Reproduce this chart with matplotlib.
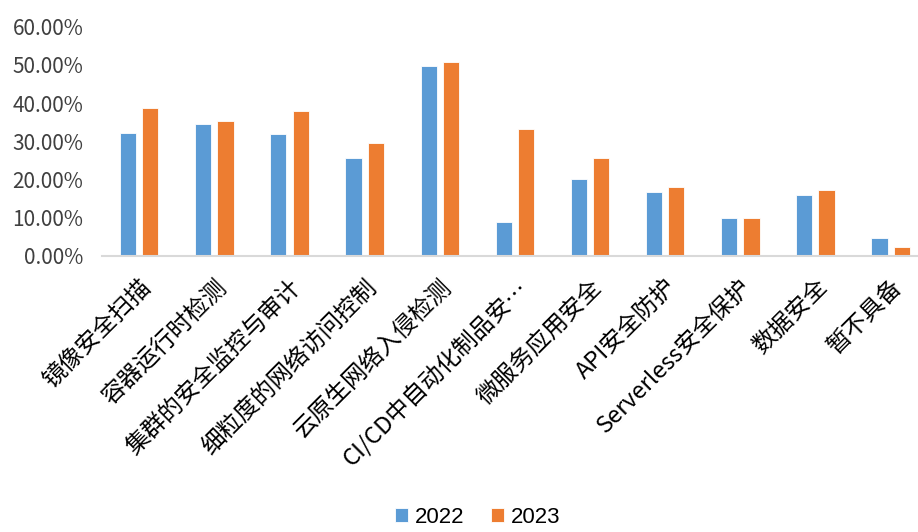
import numpy as np
import matplotlib.pyplot as plt
from matplotlib.ticker import FuncFormatter

plt.rcParams['font.family'] = ['Noto Sans CJK SC', 'DejaVu Sans']

categories = ['镜像安全扫描', '容器运行时检测', '集群的安全监控与审计', '细粒度的网络访问控制',
              '云原生网络入侵检测', 'CI/CD中自动化制品安…', '微服务应用安全', 'API安全防护',
              'Serverless安全保护', '数据安全', '暂不具备']
values_2022 = [32.3, 34.6, 31.9, 25.6, 49.7, 8.8, 20.2, 16.8, 9.8, 15.9, 4.8]
values_2023 = [38.6, 35.3, 38.0, 29.6, 50.7, 33.3, 25.6, 18.1, 9.8, 17.2, 2.4]
years = ['2022', '2023']
colors = ['#5B9BD5', '#ED7D31']

fig = plt.figure(figsize=(9.18, 5.32), dpi=100)
ax = fig.add_axes([0.1107, 0.519, 0.893, 0.4308])

x = np.arange(len(categories))
w = 0.215
ax.bar(x - 0.148, values_2022, w, color=colors[0], edgecolor='white', linewidth=0.6, label=years[0])
ax.bar(x + 0.148, values_2023, w, color=colors[1], edgecolor='white', linewidth=0.6, label=years[1])

ax.set_ylim(0, 60)
ax.set_yticks(np.arange(0, 61, 10))
ax.yaxis.set_major_formatter(FuncFormatter(lambda v, p: f'{v:.2f}%'))
ax.set_xlim(-0.5, 10.41)
ax.set_xticks(x)
ax.set_xticklabels(categories, rotation=45, ha='right', rotation_mode='anchor', fontsize=17)

for s in ['top', 'right', 'left']:
    ax.spines[s].set_visible(False)
ax.spines['bottom'].set_color('#d9d9d9')
ax.spines['bottom'].set_linewidth(1.5)
ax.tick_params(axis='both', length=0, colors='#404040')
ax.tick_params(axis='x', colors='black', pad=14)
ax.tick_params(axis='y', pad=13, labelsize=15)

fig.legend(loc='lower center', bbox_to_anchor=(0.52, -0.03), ncol=2, frameon=False,
           handlelength=0.6, handleheight=0.6, handletextpad=0.3, columnspacing=1.2,
           prop={'family': 'Liberation Sans', 'size': 16})

fig.savefig('out.png', dpi=100)
